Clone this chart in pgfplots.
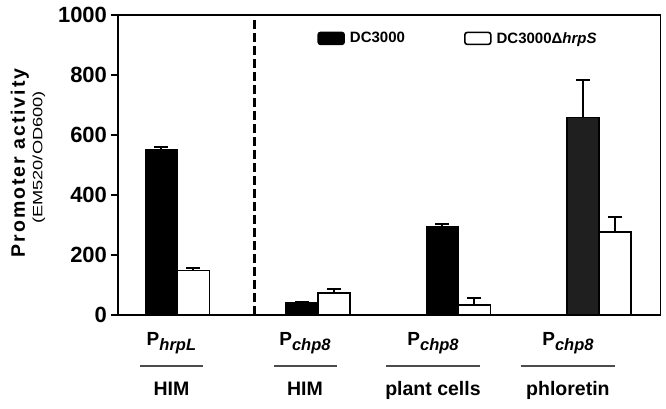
\documentclass[border=0pt]{standalone}
\usepackage{fontspec}
\setmainfont{Liberation Sans}
\usepackage{pgfplots}
\pgfplotsset{compat=1.18}

% x: group centre (between the two bars) at 0,1,2,3; e: upper error
\pgfplotstableread{
x       y    e
-0.114  553  6
0.886   41   3
1.886   294  9
}\wildtype
\pgfplotstableread{
x       y    e
2.886   659  124
}\wildtypephl
\pgfplotstableread{
x       y    e
0.114   148  8
1.114   74   13
2.114   33   23
3.114   276  52
}\mutant

\begin{document}
\begin{tikzpicture}
\useasboundingbox (0,0) rectangle (666pt,408pt);
\begin{axis}[
    at={(118pt,93pt)}, anchor=south west,
    scale only axis, width=542.7pt, height=300pt,
    xmin=-0.422, xmax=3.439, ymin=0, ymax=1000,
    xtick=\empty,
    ytick={0,200,...,1000},
    ytick pos=left, tick align=outside, major tick length=7pt,
    every tick/.style={black, line width=1.6pt},
    axis line style={line width=1.4pt},
    yticklabel style={font=\fontsize{22}{24}\selectfont\bfseries,
        /pgf/number format/assume math mode=true,
        /pgf/number format/set thousands separator={}, xshift=-0.5pt},
    clip=false,
    legend image code/.code={\draw[#1, line width=1.6pt, rounded corners=2.5pt] (0pt,-6pt) rectangle (26pt,6pt);},
    legend style={at={(0.367,0.922)}, anchor=west, draw=none, fill=none,
        inner sep=0pt, legend columns=2,
        font=\fontsize{15}{16}\selectfont\bfseries,
        nodes={inner sep=1pt},
        /tikz/every odd column/.append style={column sep=4pt},
        /tikz/every even column/.append style={column sep=58pt}},
    error bars/error mark=|,
    error bars/error bar style={line width=2pt, black},
    error bars/error mark options={line width=2pt, mark size=7pt, black},
]
\addlegendimage{fill=black, draw=black}
\addlegendentry{DC3000}
\addlegendimage{fill=white, draw=black}
\addlegendentry{DC3000Δ\textit{hrpS}}

\addplot[ybar, bar width=0.228, bar shift=0pt, fill=black, draw=black, line width=1.2pt, forget plot,
    error bars/.cd, y dir=plus, y explicit]
    table[x=x, y=y, y error=e] {\wildtype};
\addplot[ybar, bar width=0.228, bar shift=0pt, fill=black!88, draw=black, line width=1.4pt, forget plot,
    error bars/.cd, y dir=plus, y explicit]
    table[x=x, y=y, y error=e] {\wildtypephl};
\addplot[ybar, bar width=0.228, bar shift=0pt, fill=white, draw=black, line width=1.7pt, forget plot,
    error bars/.cd, y dir=plus, y explicit]
    table[x=x, y=y, y error=e] {\mutant};

% divider
\addplot[black, line width=2.5pt, dash pattern=on 9pt off 4pt, forget plot]
    coordinates {(0.548,0) (0.548,983)};

% heavier left and bottom axis lines
\draw[line width=2.6pt] (rel axis cs:0,1) -- (rel axis cs:0,0) -- (rel axis cs:1,0);

% y label
\node[rotate=90, font=\fontsize{19.5}{20}\selectfont\bfseries\addfontfeature{LetterSpace=10}]
    at (axis description cs:-0.181,0.507) {Promoter activity};
\node[rotate=90, font=\fontsize{13.5}{14}\selectfont]
    at (axis description cs:-0.146,0.525) {\scalebox{1.35}[1]{(EM520/OD600)}};

% group labels
\node[anchor=base, font=\fontsize{19}{20}\selectfont\bfseries] at (axis cs:-0.042,-103)
    {P\raisebox{-5pt}{\fontsize{16.5}{17}\selectfont\itshape hrpL}};
\node[anchor=base, font=\fontsize{19}{20}\selectfont\bfseries] at (axis cs:0.908,-103)
    {P\raisebox{-5pt}{\fontsize{16.5}{17}\selectfont\itshape chp8}};
\node[anchor=base, font=\fontsize{19}{20}\selectfont\bfseries] at (axis cs:1.819,-103)
    {P\raisebox{-5pt}{\fontsize{16.5}{17}\selectfont\itshape chp8}};
\node[anchor=base, font=\fontsize{19}{20}\selectfont\bfseries] at (axis cs:2.779,-103)
    {P\raisebox{-5pt}{\fontsize{16.5}{17}\selectfont\itshape chp8}};

\draw[black!70, line width=2pt] (axis cs:-0.265,-170) -- (axis cs:0.181,-170);
\draw[black!70, line width=2pt] (axis cs:0.688,-170) -- (axis cs:1.134,-170);
\draw[black!70, line width=2pt] (axis cs:1.485,-170) -- (axis cs:2.153,-170);
\draw[black!70, line width=2pt] (axis cs:2.443,-170) -- (axis cs:3.114,-170);

\node[anchor=base, font=\fontsize{19.5}{20}\selectfont\bfseries] at (axis cs:-0.042,-267) {HIM};
\node[anchor=base, font=\fontsize{19.5}{20}\selectfont\bfseries] at (axis cs:0.908,-267) {HIM};
\node[anchor=base, font=\fontsize{19.5}{20}\selectfont\bfseries] at (axis cs:1.819,-267) {plant cells};
\node[anchor=base, font=\fontsize{19.5}{20}\selectfont\bfseries] at (axis cs:2.779,-267) {phloretin};
\end{axis}
\end{tikzpicture}
\end{document}
